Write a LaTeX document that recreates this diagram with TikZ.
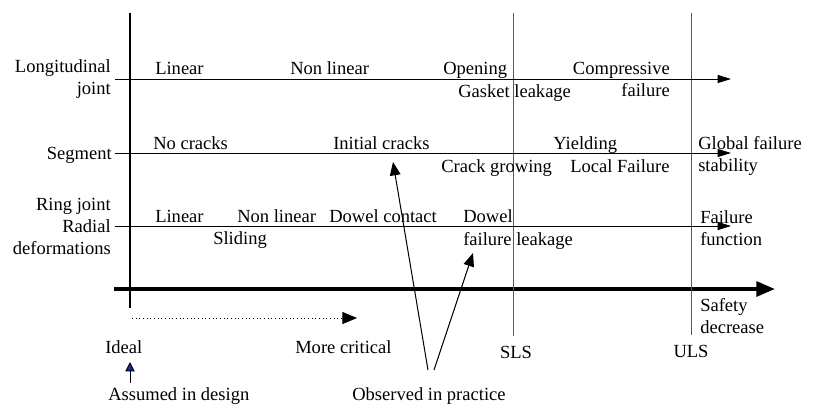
\documentclass[tikz,border=0pt]{standalone}
\usepackage{fontspec}
\setmainfont{Liberation Serif}
\usepackage{xcolor}
\usetikzlibrary{arrows.meta, positioning, calc}
\definecolor{idealblue}{RGB}{20, 40, 170}
\definecolor{limitgray}{RGB}{90, 90, 90}

\begin{document}
\begin{tikzpicture}[
  x=0.75pt, y=-0.75pt,
  font=\fontsize{13.9pt}{16.5pt}\selectfont,
  txt/.style={inner sep=0pt, anchor=base west},
  lbl/.style={inner sep=0pt, anchor=base east, align=right},
  rowline/.style={-{Triangle[length=10pt, width=6pt]}, line width=0.75pt},
  axis/.style={-{Triangle[length=14pt, width=11pt]}, line width=3pt},
  limit/.style={line width=0.75pt, color=limitgray},
  pointer/.style={-{Triangle[length=10pt, width=8pt]}, line width=0.75pt},
]
\useasboundingbox (0,0) rectangle (813,404);

% Axes
\coordinate (vtop) at (130,13);
\coordinate (vbot) at (130,308);
\coordinate (hs) at (114,289);
\coordinate (he) at (775,289);
\draw[line width=1.5pt] (vtop) -- (vbot);
\draw[axis] (hs) -- (he);

% Limit states
\coordinate (slstop) at (513,13);
\coordinate (slsbot) at (513,336);
\coordinate (ulstop) at (691,13);
\coordinate (ulsbot) at (691,335);
\draw[limit] (slstop) -- (slsbot);
\draw[limit] (ulstop) -- (ulsbot);

% Rows
\coordinate (r1s) at (115,79);  \coordinate (r1e) at (731,79);
\coordinate (r2s) at (115,153); \coordinate (r2e) at (731,153);
\coordinate (r3s) at (115,226); \coordinate (r3e) at (731,226);
\draw[rowline] (r1s) -- (r1e);
\draw[rowline] (r2s) -- (r2e);
\draw[rowline] (r3s) -- (r3e);

% Row labels (base = last line)
\node[lbl] (lj) at (111,94) {Longitudinal\\joint};
\node[lbl] (seg) at (112,159) {Segment};
\node[lbl] (rj) at (111,254) {Ring joint\\Radial\\deformations};

% Longitudinal joint
\node[txt] (lj1) at (155,74) {Linear};
\node[txt] (lj2) at (290,74) {Non linear};
\node[txt] (lj3) at (443,74) {Opening};
\node[txt] (lj4) at (458,97) {Gasket leakage};
\node[lbl] (lj5) at (670,96) {Compressive\\failure};

% Segment
\node[txt] (sg1) at (153,149) {No cracks};
\node[txt] (sg2) at (333,149) {Initial cracks};
\node[txt] (sg3) at (441,172) {Crack growing};
\node[txt] (sg4) at (553,149) {Yielding};
\node[txt] (sg5) at (570,172) {Local Failure};
\node[txt, align=left] (sg6) at (698,171) {Global failure\\stability};

% Ring joint
\node[txt] (rj1) at (155,222) {Linear};
\node[txt] (rj2) at (237,222) {Non linear};
\node[txt] (rj3) at (213,244) {Sliding};
\node[txt] (rj4) at (329,222) {Dowel contact};
\node[txt] (rj5) at (463,222) {Dowel};
\node[txt] (rj6) at (463,245) {failure\ leakage};
\node[txt, align=left] (rj7) at (700,245) {Failure\\function};

% Bottom labels
\node[txt, align=left] (safety) at (700,333) {Safety\\decrease};
\node[inner sep=0pt, anchor=base] (sls) at (516,358) {SLS};
\node[inner sep=0pt, anchor=base] (uls) at (691,357) {ULS};
\node[txt] (ideal) at (105,353) {Ideal};
\node[txt] (critical) at (295,353) {More critical};
\node[txt] (design) at (108,400) {Assumed in design};
\node[txt] (observed) at (352,400) {Observed in practice};

% Direction of criticality
\coordinate (ds) at (132,318);
\coordinate (de) at (357,318);
\draw[-{Triangle[length=11pt, width=9pt]}, dotted, line width=0.75pt] (ds) -- (de);

% Pointers
\coordinate (ids) at (130,383);
\coordinate (ide) at (130,362);
\draw[-{Triangle[length=7pt, width=7pt, fill=idealblue]}, line width=0.75pt] (ids) -- (ide);

\coordinate (o1) at (428,370);
\coordinate (o2) at (434,370);
\coordinate (t1) at (393,162);
\coordinate (t2) at (473,253);
\draw[pointer] (o1) -- (t1);
\draw[pointer] (o2) -- (t2);

\end{tikzpicture}
\end{document}
